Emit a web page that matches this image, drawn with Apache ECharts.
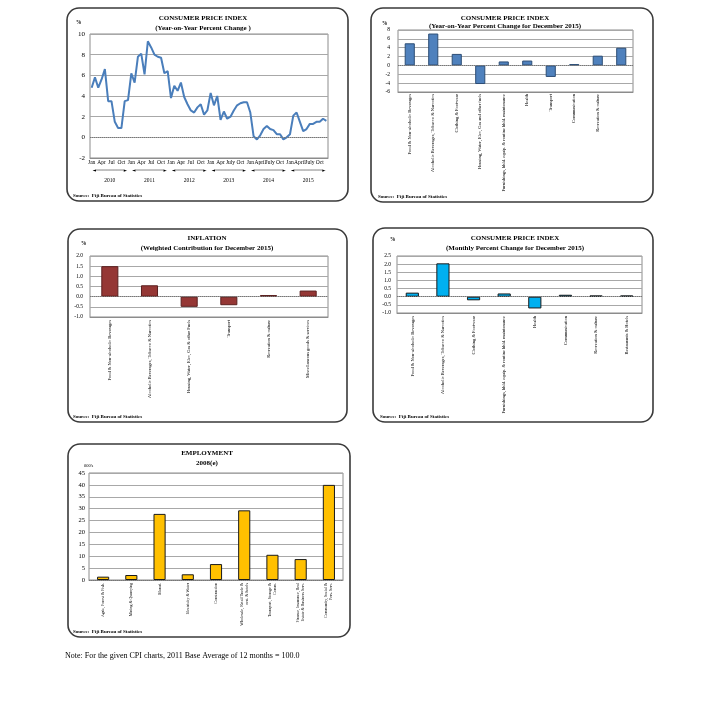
<!DOCTYPE html>
<html>
<head>
<meta charset="utf-8">
<script src="https://cdn.jsdelivr.net/npm/echarts@6/dist/echarts.min.js"></script>
<style>
  html, body { margin: 0; padding: 0; background: #fff; }
  #page { width: 724px; height: 720px; }
</style>
</head>
<body>
<div id="page"></div>
<script>
// chart 1: CPI year-on-year, monthly 2010 - 2015
var years = ['2010', '2011', '2012', '2013', '2014', '2015']
var monthTicks = [
  ['Jan', 'Apr', 'Jul', 'Oct'],
  ['Jan', 'Apr', 'Jul', 'Oct'],
  ['Jan', 'Apr', 'Jul', 'Oct'],
  ['Jan', 'Apr', 'July', 'Oct'],
  ['Jan', 'April', 'July', 'Oct'],
  ['Jan', 'April', 'July', 'Oct']
]
var cpiYoY = [
  4.8, 5.8, 4.8, 5.6, 6.6, 3.5, 3.5, 1.5, 0.9, 0.9, 3.5, 3.6,
  6.2, 5.3, 7.8, 8.1, 6.1, 9.3, 8.7, 8.0, 7.8, 7.7, 6.2, 6.4,
  3.8, 5.0, 4.5, 5.3, 3.9, 3.2, 2.6, 2.4, 2.9, 3.2, 2.2, 2.6,
  4.3, 3.1, 4.0, 1.7, 2.5, 1.8, 2.0, 2.6, 3.1, 3.3, 3.4, 3.4,
  2.4, 0.1, -0.2, 0.2, 0.8, 1.1, 0.8, 0.7, 0.3, 0.3, -0.2, 0.0,
  0.3, 2.1, 2.4, 1.5, 0.6, 0.8, 1.3, 1.3, 1.5, 1.5, 1.8, 1.6
]

// chart 2: CPI year-on-year by group, December 2015
var yoyGroups = [
  'Food & Non-alcoholic Beverages',
  'Alcoholic Beverages, Tobacco & Narcotics',
  'Clothing & Footwear',
  'Housing, Water, Elec, Gas and other fuels',
  'Furnishings, hhld. equip. & routine hhld. maintenance',
  'Health',
  'Transport',
  'Communication',
  'Recreation & culture',
  ''
]
var yoyValues = [5.0, 7.2, 2.6, -4.2, 0.9, 1.1, -2.6, 0.3, 2.2, 4.0]

// chart 3: inflation, weighted contribution
var inflGroups = [
  'Food & Non-alcoholic Beverages',
  'Alcoholic Beverages, Tobacco & Narcotics',
  'Housing, Water, Elec, Gas & other Fuels',
  'Transport',
  'Recreation & culture',
  'Miscellaneous goods & services'
]
var inflValues = [1.5, 0.56, -0.5, -0.42, 0.08, 0.3]

// chart 4: CPI monthly percent change
var monthlyGroups = [
  'Food & Non-alcoholic Beverages',
  'Alcoholic Beverages, Tobacco & Narcotics',
  'Clothing & Footwear',
  'Furnishings, hhld. equip. & routine hhld. maintenance',
  'Health',
  'Communication',
  'Recreation & culture',
  'Restaurants & Hotels'
]
var monthlyValues = [0.25, 2.05, -0.22, 0.2, -0.72, 0.12, 0.08, 0.08]

// chart 5: employment 2008(e), 000's
var empSectors = [
  'Agric, Forest & Fish.',
  'Mining & Quarrying',
  'Manuf.',
  'Electricity & Water',
  'Construction',
  'Wholesale, Retail Trade &\nrest. & hotels',
  'Transport, Storage &\nComm.',
  'Finance, Insurance, Real\nEstate & Business Serv.',
  'Community, Social &\nPers. Serv.'
]
var empValues = [1.4, 2.1, 27.8, 2.4, 6.7, 29.3, 10.6, 8.8, 40.0]

var monthLabels = []
years.forEach(function (y, yi) {
  for (var m = 0; m < 12; m++) {
    monthLabels.push(m % 3 === 0 ? monthTicks[yi][m / 3] : '')
  }
})
var monthCats = []
for (var i = 0; i < cpiYoY.length; i++) monthCats.push(String(i))

var serif = 'Liberation Serif'
var arrowText = '\u25C4' + '\u2500\u2500\u2500\u2500\u2500\u2500\u2500\u2500' + '\u25BA'

function valueAxis (grid, min, max, interval, size, margin, digits) {
  return {
    type: 'value', gridIndex: grid, min: min, max: max, interval: interval,
    axisLine: {show: false}, axisTick: {show: false},
    axisLabel: {
      fontFamily: serif, fontSize: size, color: '#000', margin: margin,
      formatter: function (v) { return digits ? v.toFixed(digits) : String(v) }
    },
    splitLine: {lineStyle: {color: '#a8a8a8', width: 1}}
  }
}

function catAxis (grid, data, size, margin) {
  return {
    type: 'category', gridIndex: grid, data: data,
    axisLine: {onZero: false, lineStyle: {color: '#8c8c8c'}},
    axisTick: {show: false},
    axisLabel: {interval: 0, rotate: 90, fontFamily: serif, fontSize: size, color: '#000', margin: margin, lineHeight: size + 1}
  }
}

var zeroLine = {
  silent: true, symbol: 'none', label: {show: false},
  lineStyle: {color: '#777', type: 'dotted', width: 1},
  data: [{yAxis: 0}]
}

function barSeries (axis, data, color, border) {
  return {
    type: 'bar', xAxisIndex: axis, yAxisIndex: axis, data: data, barWidth: '43%',
    itemStyle: {color: color, borderColor: border, borderWidth: 1},
    markLine: zeroLine, animation: false
  }
}

function txt (x, y, text, size, bold, align) {
  return {
    type: 'text', x: x, y: y, silent: true,
    style: {
      text: text, fontFamily: serif, fontSize: size, fontWeight: bold ? 'bold' : 'normal',
      fill: '#000', textAlign: align || 'left', textVerticalAlign: 'middle'
    }
  }
}

function frame (x, y, w, h) {
  return {
    type: 'rect', silent: true,
    shape: {x: x, y: y, width: w, height: h, r: 12},
    style: {fill: 'none', stroke: '#3a3a3a', lineWidth: 1.6}
  }
}

var gridBox = {show: true, borderColor: '#8c8c8c', borderWidth: 1, backgroundColor: '#fff'}

var chart = echarts.init(document.getElementById('page'))
chart.setOption({
  animation: false,
  grid: [
    Object.assign({left: 90, top: 34, width: 238, height: 124}, gridBox),
    Object.assign({left: 398, top: 30, width: 235, height: 62}, gridBox),
    Object.assign({left: 90, top: 256, width: 238, height: 61}, gridBox),
    Object.assign({left: 397, top: 256, width: 245, height: 57}, gridBox),
    Object.assign({left: 89, top: 473, width: 254, height: 107}, gridBox)
  ],
  xAxis: [
    {
      type: 'category', gridIndex: 0, data: monthCats,
      axisLine: {onZero: false, lineStyle: {color: '#8c8c8c'}},
      axisTick: {show: false},
      axisLabel: {
        interval: 0, fontFamily: serif, fontSize: 5.5, color: '#000', margin: 2,
        formatter: function (v, idx) { return monthLabels[idx] }
      }
    },
    catAxis(1, yoyGroups, 4.5, 2),
    catAxis(2, inflGroups, 4.5, 3),
    catAxis(3, monthlyGroups, 4.5, 3),
    catAxis(4, empSectors, 4, 3),
    {
      type: 'category', gridIndex: 0, data: years, position: 'bottom', offset: 8,
      axisLine: {show: false}, axisTick: {show: false},
      axisLabel: {
        interval: 0, margin: 0,
        formatter: function (v) { return '{a|' + arrowText + '}\n{b|' + v + '}' },
        rich: {
          a: {fontFamily: 'DejaVu Sans Mono', fontSize: 5.8, color: '#000', lineHeight: 8},
          b: {fontFamily: serif, fontSize: 5.5, color: '#000', lineHeight: 11, padding: [3, 0, 0, 0]}
        }
      }
    }
  ],
  yAxis: [
    valueAxis(0, -2, 10, 2, 7, 5, 0),
    valueAxis(1, -6, 8, 2, 5.5, 8, 0),
    valueAxis(2, -1, 2, 0.5, 5.5, 7, 1),
    valueAxis(3, -1, 2.5, 0.5, 5.5, 6, 1),
    valueAxis(4, 0, 45, 5, 6.5, 4, 0)
  ],
  series: [
    {
      type: 'line', xAxisIndex: 0, yAxisIndex: 0, data: cpiYoY,
      symbol: 'none', lineStyle: {color: '#4a7ebb', width: 2},
      markLine: zeroLine
    },
    barSeries(1, yoyValues, '#4f81bd', '#2c4d75'),
    barSeries(2, inflValues, '#953735', '#5a1f1e'),
    barSeries(3, monthlyValues, '#00b0f0', '#1a1a1a'),
    barSeries(4, empValues, '#ffc000', '#1a1a1a')
  ],
  graphic: [
    frame(67, 8, 281, 193),
    frame(371, 8, 282, 194),
    frame(68, 229, 279, 193),
    frame(373, 228, 280, 194),
    frame(68, 444, 282, 193),

    txt(203, 18, 'CONSUMER PRICE INDEX', 7, true, 'center'),
    txt(203, 28, '(Year-on-Year Percent Change )', 7, true, 'center'),
    txt(76, 23, '%', 5.5, true),
    txt(73, 196, 'Source:  Fiji Bureau of Statistics', 5, true),

    txt(505, 18, 'CONSUMER PRICE INDEX', 7, true, 'center'),
    txt(505, 26, '(Year-on-Year Percent Change for December 2015)', 7, true, 'center'),
    txt(382, 24, '%', 5.5, true),
    txt(378, 197, 'Source:  Fiji Bureau of Statistics', 5, true),

    txt(207, 238, 'INFLATION', 7, true, 'center'),
    txt(207, 248, '(Weighted Contribution for December 2015)', 7, true, 'center'),
    txt(81, 244, '%', 5.5, true),
    txt(73, 417, 'Source:  Fiji Bureau of Statistics', 5, true),

    txt(515, 238, 'CONSUMER PRICE INDEX', 7, true, 'center'),
    txt(515, 248, '(Monthly Percent Change for December 2015)', 7, true, 'center'),
    txt(390, 240, '%', 5.5, true),
    txt(380, 417, 'Source:  Fiji Bureau of Statistics', 5, true),

    txt(207, 453, 'EMPLOYMENT', 7, true, 'center'),
    txt(207, 463, '2008(e)', 7, true, 'center'),
    txt(84, 466, "000's", 4.5, false),
    txt(73, 632, 'Source:  Fiji Bureau of Statistics', 5, true),

    txt(65, 656, 'Note: For the given CPI charts, 2011 Base Average of 12 months = 100.0', 8, false)
  ]
})
</script>
</body>
</html>
